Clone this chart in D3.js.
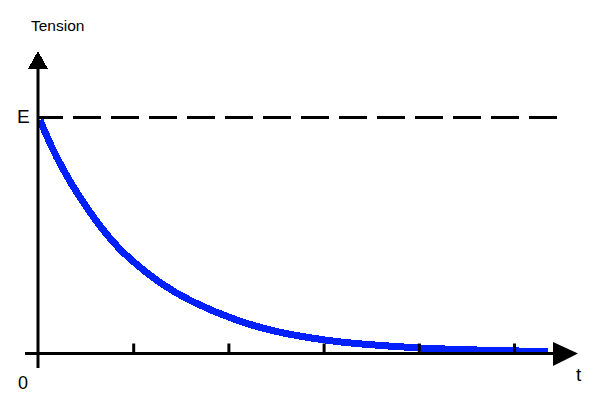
<!DOCTYPE html>
<html><head><meta charset="utf-8">
<script src="https://cdn.jsdelivr.net/npm/d3@7"></script>
<style>body{margin:0;background:#fff}svg{display:block}</style>
</head><body>
<svg id="c" width="600" height="411"></svg>
<script>
// data (t in tick units, tension as fraction of E)
const timeVals    = [0.02, 0.13, 0.26, 0.44, 0.62, 0.79, 0.97, 1.28, 1.60, 2.09, 2.54, 3.07, 3.33, 4.01, 4.85, 5.36];
const tensionVals = [0.99, 0.885, 0.78, 0.66, 0.555, 0.47, 0.397, 0.297, 0.22, 0.137, 0.086, 0.053, 0.042, 0.021, 0.012, 0.008];
const tickVals = [1, 2, 3, 4, 5];
const yAxisLabel = "Tension", xAxisLabel = "t", eLabel = "E", originLabel = "0";

const svg = d3.select("#c");
const x = d3.scaleLinear().domain([0, 1]).range([38, 133.2]);
const y = d3.scaleLinear().domain([0, 1]).range([353.5, 117.5]);

// dashed E line
svg.append("line").attr("x1", x(0)).attr("x2", 560).attr("y1", y(1)).attr("y2", y(1))
  .attr("stroke", "#000").attr("stroke-width", 3).attr("stroke-dasharray", "28 10")
  .attr("stroke-dashoffset", 3);

// curve
const pts = timeVals.map((t, i) => [t, tensionVals[i]]);
svg.append("path").datum(pts)
  .attr("d", d3.line().x(d => x(d[0])).y(d => y(d[1])).curve(d3.curveBasis))
  .attr("fill", "none").attr("stroke", "#0020ff").attr("stroke-width", 7)
  .attr("shape-rendering", "crispEdges");

// x axis ticks via d3 axis
const ax = svg.append("g").attr("transform", `translate(0,${y(0)})`)
  .call(d3.axisBottom(x).tickValues(tickVals).tickSize(-10).tickFormat(""));
ax.select(".domain").remove();
ax.selectAll(".tick line").attr("stroke", "#000").attr("stroke-width", 3);

// axes lines
svg.append("line").attr("x1", 25).attr("x2", 556).attr("y1", y(0)).attr("y2", y(0))
  .attr("stroke", "#000").attr("stroke-width", 3);
svg.append("line").attr("x1", x(0)).attr("x2", x(0)).attr("y1", 368).attr("y2", 66)
  .attr("stroke", "#000").attr("stroke-width", 3);

// arrows
svg.append("path").attr("d", `M553,342 L578,${y(0)} L553,366 Z`).attr("fill", "#000");
svg.append("path").attr("d", `M28,69 L38,51 L48,69 Z`).attr("fill", "#000")
  .attr("shape-rendering", "crispEdges");

// labels
const font = "Liberation Sans, Arial, sans-serif";
svg.append("text").attr("x", 31).attr("y", 31).attr("font-family", font).attr("font-size", 15.5).text(yAxisLabel);
svg.append("text").attr("x", 17).attr("y", 123).attr("font-family", font).attr("font-size", 19).text(eLabel);
svg.append("text").attr("x", 18).attr("y", 389).attr("font-family", font).attr("font-size", 18).text(originLabel);
svg.append("text").attr("x", 576).attr("y", 381).attr("font-family", font).attr("font-size", 19).text(xAxisLabel);
</script>
</body></html>
